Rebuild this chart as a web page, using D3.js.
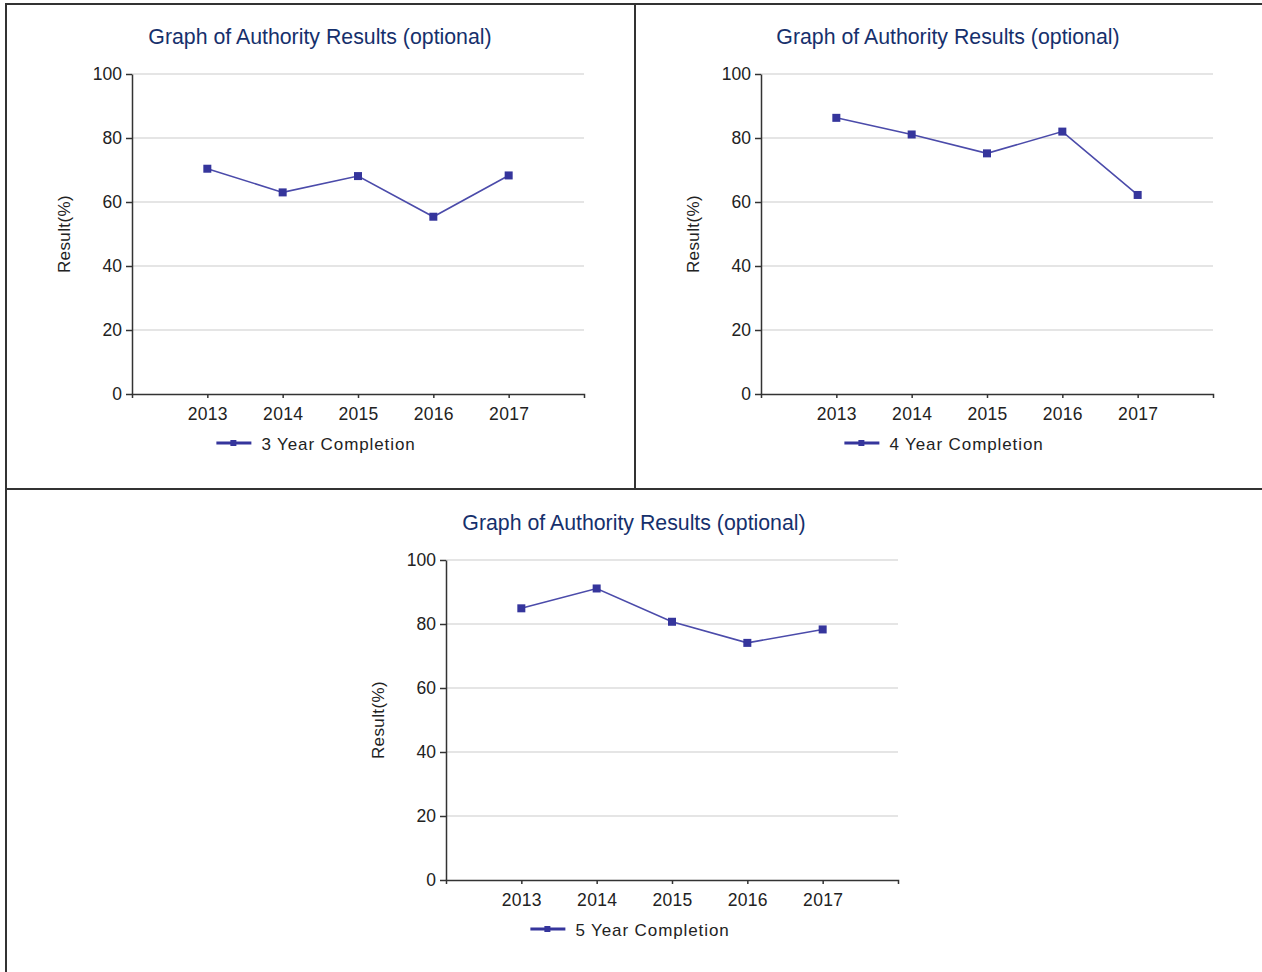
<!DOCTYPE html>
<html>
<head>
<meta charset="utf-8">
<script src="https://cdn.jsdelivr.net/npm/d3@7"></script>
<style>
  body { margin: 0; background: #fff; }
  svg { display: block; font-family: "Liberation Sans", Arial, sans-serif; }
</style>
</head>
<body>
<svg id="chart" width="1262" height="972"></svg>
<script>
// data
const years = ["2013", "2014", "2015", "2016", "2017"];
const completion3 = [70.4, 63.0, 68.1, 55.4, 68.3];
const completion4 = [86.3, 81.1, 75.2, 82.0, 62.2];
const completion5 = [84.9, 91.1, 80.7, 74.1, 78.3];
const seriesNames = ["3 Year Completion", "4 Year Completion", "5 Year Completion"];
const yTicks = [0, 20, 40, 60, 80, 100];
const chartTitle = "Graph of Authority Results (optional)";
const yLabel = "Result(%)";

const lineColor = "#35359c";
const svg = d3.select("#chart");

// panel frame lines
const frame = svg.append("g").attr("stroke", "#333").attr("stroke-width", 2).attr("fill", "none");
frame.append("line").attr("x1", 5).attr("y1", 4).attr("x2", 1262).attr("y2", 4);
frame.append("line").attr("x1", 6).attr("y1", 4).attr("x2", 6).attr("y2", 972);
frame.append("line").attr("x1", 635).attr("y1", 4).attr("x2", 635).attr("y2", 489);
frame.append("line").attr("x1", 5).attr("y1", 489).attr("x2", 1262).attr("y2", 489);

// panels: centre of the panel box, vertical offset, plot box left/right
const panels = [
  { values: completion3, name: seriesNames[0], cx: 320, top: 0, px0: 132, px1: 584 },
  { values: completion4, name: seriesNames[1], cx: 948, top: 0, px0: 761, px1: 1213 },
  { values: completion5, name: seriesNames[2], cx: 634, top: 486, px0: 446, px1: 898 }
];

panels.forEach(function(p) {
  drawChart(p);
});

function drawChart(p) {
  var g = svg.append("g").attr("transform", "translate(0," + p.top + ")");
  var y0 = 394, y1 = 74;

  var x = d3.scalePoint().domain(years).range([p.px0, p.px1]).padding(1);
  var y = d3.scaleLinear().domain([0, 100]).range([y0, y1]);

  g.append("text")
      .attr("x", p.cx)
      .attr("y", 44)
      .attr("text-anchor", "middle")
      .attr("fill", "#16306c")
      .style("font-size", "21.3px")
      .text(chartTitle);

  // gridlines
  g.append("g")
    .selectAll("line")
    .data(yTicks.filter(function(d) { return d > 0; }))
    .enter().append("line")
      .attr("x1", p.px0).attr("x2", p.px1)
      .attr("y1", function(d) { return y(d); })
      .attr("y2", function(d) { return y(d); })
      .attr("stroke", "#dcdcdc")
      .attr("stroke-width", 1.5);

  var yAxis = g.append("g")
      .attr("transform", "translate(" + p.px0 + ",0)")
      .call(d3.axisLeft(y).tickValues(yTicks).tickSize(6).tickSizeOuter(0));
  yAxis.select(".domain").attr("stroke", "#333").attr("stroke-width", 1.5);
  yAxis.selectAll(".tick line").attr("stroke", "#333").attr("stroke-width", 1.5);
  yAxis.selectAll(".tick text")
      .attr("fill", "#222")
      .attr("x", -10)
      .style("font-size", "17.5px")
      .style("font-family", "'Liberation Sans', Arial, sans-serif");

  var xAxis = g.append("g")
      .attr("transform", "translate(0," + y0 + ")")
      .call(d3.axisBottom(x).tickSize(4).tickSizeOuter(4));
  xAxis.select(".domain").attr("stroke", "#333").attr("stroke-width", 1.5);
  xAxis.selectAll(".tick line").attr("stroke", "#333").attr("stroke-width", 1.5);
  xAxis.selectAll(".tick text")
      .attr("fill", "#222")
      .attr("y", 10)
      .attr("dy", "0.9em")
      .style("font-size", "17.5px")
      .style("letter-spacing", "0.3px")
      .style("font-family", "'Liberation Sans', Arial, sans-serif");

  g.append("text")
      .attr("transform", "translate(" + (p.px0 - 62) + "," + ((y0 + y1) / 2) + ") rotate(-90)")
      .attr("text-anchor", "middle")
      .attr("fill", "#222")
      .style("font-size", "17px")
      .style("letter-spacing", "0.4px")
      .text(yLabel);

  var line = d3.line()
      .x(function(d, i) { return x(years[i]); })
      .y(function(d) { return y(d); });

  g.append("path")
      .datum(p.values)
      .attr("fill", "none")
      .attr("stroke", "#4b4baa")
      .attr("stroke-width", 1.6)
      .attr("d", line);

  g.selectAll("rect.mark")
    .data(p.values)
    .enter().append("rect")
      .attr("class", "mark")
      .attr("x", function(d, i) { return x(years[i]) - 4; })
      .attr("y", function(d) { return y(d) - 4; })
      .attr("width", 8)
      .attr("height", 8)
      .attr("fill", lineColor);

  // legend
  var leg = g.append("g");
  var legText = leg.append("text")
      .attr("y", 450)
      .attr("fill", "#222")
      .style("font-size", "17px")
      .style("letter-spacing", "0.9px")
      .text(p.name);
  var tw = legText.node().getComputedTextLength();
  var total = 35 + 10 + tw;
  var lx = p.cx - 4 - total / 2;
  legText.attr("x", lx + 45);
  leg.append("line")
      .attr("x1", lx).attr("x2", lx + 35)
      .attr("y1", 443).attr("y2", 443)
      .attr("stroke", lineColor)
      .attr("stroke-width", 3);
  leg.append("rect")
      .attr("x", lx + 14).attr("y", 440)
      .attr("width", 6).attr("height", 6)
      .attr("fill", lineColor);
}
</script>
</body>
</html>
